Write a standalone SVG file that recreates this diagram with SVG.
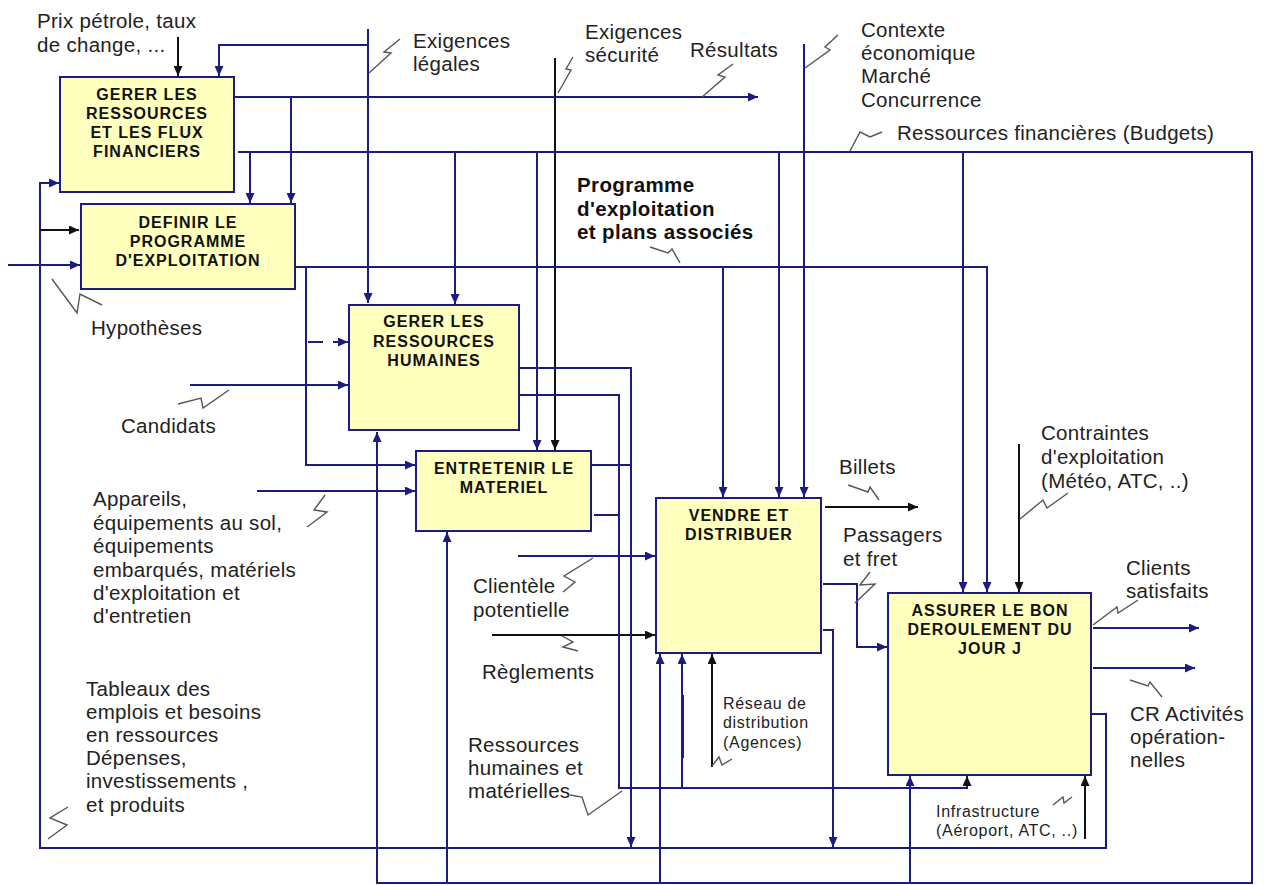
<svg xmlns="http://www.w3.org/2000/svg" width="1264" height="885" viewBox="0 0 1264 885">
  <defs>
    <marker id="an" markerUnits="userSpaceOnUse" markerWidth="11" markerHeight="9" refX="10" refY="4.5" orient="auto">
      <path d="M0,0 L10,4.5 L0,9 z" fill="#1c1c80"/>
    </marker>
    <marker id="ab" markerUnits="userSpaceOnUse" markerWidth="11" markerHeight="9" refX="10" refY="4.5" orient="auto">
      <path d="M0,0 L10,4.5 L0,9 z" fill="#111"/>
    </marker>
    <style>
      .c { fill: none; stroke: #1c1c80; stroke-width: 2; }
      .k { fill: none; stroke: #111; stroke-width: 2; }
      .z { fill: none; stroke: #555; stroke-width: 1.4; }
      .box { fill: #ffffbe; stroke: #1c1c80; stroke-width: 2; }
      .t { font-family: "Liberation Sans", Arial, sans-serif; font-size: 20.5px; fill: #222; letter-spacing: 0.3px; }
      .s { font-family: "Liberation Sans", Arial, sans-serif; font-size: 16px; fill: #222; letter-spacing: 0.7px; }
      .b { font-family: "Liberation Sans", Arial, sans-serif; font-size: 20.5px; font-weight: bold; fill: #111; letter-spacing: 0.4px; }
      .h { font-family: "Liberation Sans", Arial, sans-serif; font-size: 16px; font-weight: bold; fill: #111; text-anchor: middle; letter-spacing: 1px; }
    </style>
  </defs>
  <rect width="1264" height="885" fill="#ffffff"/>

  <!-- connectors -->
  <g id="connectors">
    <!-- controls from the top -->
    <path class="c" d="M368,29 V303" marker-end="url(#an)"/>
    <path class="c" d="M368,45 H219 V76" marker-end="url(#an)"/>
    <path class="k" d="M178,37 V76" marker-end="url(#ab)"/>
    <path class="k" d="M555,58 V450" marker-end="url(#ab)"/>
    <path class="c" d="M804,44 V497" marker-end="url(#an)"/>
    <path class="k" d="M1019,444 V592" marker-end="url(#ab)"/>

    <!-- financial outputs -->
    <path class="c" d="M234,97 H758" marker-end="url(#an)"/>
    <path class="c" d="M291,97 V203" marker-end="url(#an)"/>
    <path class="c" d="M238,152 H1252 V883 H377 V432" marker-end="url(#an)"/>
    <path class="c" d="M250,152 V203" marker-end="url(#an)"/>
    <path class="c" d="M455,152 V304" marker-end="url(#an)"/>
    <path class="c" d="M537,152 V450" marker-end="url(#an)"/>
    <path class="c" d="M779,152 V497" marker-end="url(#an)"/>
    <path class="c" d="M963,152 V592" marker-end="url(#an)"/>
    <path class="c" d="M447,883 V532" marker-end="url(#an)"/>
    <path class="c" d="M660,883 V654" marker-end="url(#an)"/>
    <path class="c" d="M910,883 V776" marker-end="url(#an)"/>

    <!-- operating programme -->
    <path class="c" d="M295,267 H987 V592" marker-end="url(#an)"/>
    <path class="c" d="M723,267 V497" marker-end="url(#an)"/>
    <path class="c" d="M306,267 V465 H415" marker-end="url(#an)"/>
    <path class="c" d="M308,342 H323"/>
    <path class="c" d="M333,342 H348" marker-end="url(#an)"/>

    <!-- feedback loop from the operations report -->
    <path class="c" d="M1091,714 H1106 V848 H40 V183 H59" marker-end="url(#an)"/>

    <!-- external inputs -->
    <path class="c" d="M8,265 H80" marker-end="url(#an)"/>
    <path class="k" d="M40,230 H79" marker-end="url(#ab)"/>
    <path class="c" d="M190,385 H348" marker-end="url(#an)"/>
    <path class="c" d="M257,491 H415" marker-end="url(#an)"/>
    <path class="c" d="M518,556 H655" marker-end="url(#an)"/>
    <path class="k" d="M492,635 H655" marker-end="url(#ab)"/>

    <!-- human and material resources -->
    <path class="c" d="M519,368 H631 V847" marker-end="url(#an)"/>
    <path class="c" d="M591,465 H631"/>
    <path class="c" d="M519,395 H619 V788 H967 V776" marker-end="url(#ab)"/>
    <path class="c" d="M594,515 H619"/>
    <path class="c" d="M682,788 V654" marker-end="url(#an)"/>
    <path class="c" d="M683,695 V758" stroke-width="3.5"/>
    <path class="k" d="M712,767 V654" marker-end="url(#ab)"/>

    <!-- sales outputs -->
    <path class="k" d="M825,507 H918" marker-end="url(#ab)"/>
    <path class="c" d="M823,584 H857 V647 H887" marker-end="url(#an)"/>
    <path class="c" d="M823,630 H833 V847" marker-end="url(#an)"/>

    <!-- day-of-operations outputs -->
    <path class="c" d="M1093,628 H1199" marker-end="url(#an)"/>
    <path class="c" d="M1093,668 H1195" marker-end="url(#an)"/>
    <path class="k" d="M1085,839 V776" marker-end="url(#ab)"/>
  </g>

  <!-- label leaders -->
  <g id="leaders">
    <polyline class="z" points="400,39 384,52 391,53 369,73"/>
    <polyline class="z" points="573,57 566,69 571,70 558,93"/>
    <polyline class="z" points="733,64 718,75 725,77 702,97"/>
    <polyline class="z" points="838,35 825,47 830,50 805,68"/>
    <polyline class="z" points="850,151 860,132 870,137 882,132"/>
    <polyline class="z" points="650,247 668,253 672,249 680,263"/>
    <polyline class="z" points="52,279 77,313 80,294 102,305"/>
    <polyline class="z" points="178,404 201,398 203,408 229,390"/>
    <polyline class="z" points="325,495 314,510 327,512 307,527"/>
    <polyline class="z" points="68,807 50,818 67,825 48,839"/>
    <polyline class="z" points="593,558 564,576 575,582 563,592"/>
    <polyline class="z" points="562,636 573,642 563,647 578,651"/>
    <polyline class="z" points="570,795 582,797 588,815 622,791"/>
    <polyline class="z" points="712,766 719,757 722,765 732,759"/>
    <polyline class="z" points="848,485 868,492 870,487 879,500"/>
    <polyline class="z" points="870,572 860,585 875,584 855,603"/>
    <polyline class="z" points="1020,519 1043,500 1047,508 1068,493"/>
    <polyline class="z" points="1093,625 1117,607 1118,613 1138,600"/>
    <polyline class="z" points="1130,680 1148,686 1150,682 1162,697"/>
    <polyline class="z" points="1053,805 1063,797 1064,803 1072,797"/>
  </g>

  <!-- activity boxes -->
  <g id="gerer-finances">
    <rect class="box" x="60" y="77" width="174" height="115"/>
    <text class="h" x="147" y="100">GERER LES</text>
    <text class="h" x="147" y="119">RESSOURCES</text>
    <text class="h" x="147" y="138">ET LES FLUX</text>
    <text class="h" x="147" y="157">FINANCIERS</text>
  </g>
  <g id="definir-programme">
    <rect class="box" x="81" y="204" width="214" height="85"/>
    <text class="h" x="188" y="228">DEFINIR LE</text>
    <text class="h" x="188" y="247">PROGRAMME</text>
    <text class="h" x="188" y="266">D'EXPLOITATION</text>
  </g>
  <g id="gerer-rh">
    <rect class="box" x="349" y="305" width="170" height="125"/>
    <text class="h" x="434" y="327">GERER LES</text>
    <text class="h" x="434" y="347">RESSOURCES</text>
    <text class="h" x="434" y="366">HUMAINES</text>
  </g>
  <g id="entretenir-materiel">
    <rect class="box" x="416" y="451" width="175" height="80"/>
    <text class="h" x="504" y="474">ENTRETENIR LE</text>
    <text class="h" x="504" y="493">MATERIEL</text>
  </g>
  <g id="vendre-distribuer">
    <rect class="box" x="656" y="498" width="165" height="155"/>
    <text class="h" x="739" y="521">VENDRE ET</text>
    <text class="h" x="739" y="540">DISTRIBUER</text>
  </g>
  <g id="assurer-jour-j">
    <rect class="box" x="888" y="593" width="203" height="182"/>
    <text class="h" x="990" y="616">ASSURER LE BON</text>
    <text class="h" x="990" y="635">DEROULEMENT DU</text>
    <text class="h" x="990" y="654">JOUR J</text>
  </g>

  <!-- flow labels -->
  <g id="labels">
    <text class="t" x="37" y="28">Prix pétrole, taux</text>
    <text class="t" x="37" y="52">de change, ...</text>
    <text class="t" x="413" y="48">Exigences</text>
    <text class="t" x="413" y="71">légales</text>
    <text class="t" x="585" y="39">Exigences</text>
    <text class="t" x="585" y="62">sécurité</text>
    <text class="t" x="690" y="57">Résultats</text>
    <text class="t" x="861" y="37">Contexte</text>
    <text class="t" x="861" y="60">économique</text>
    <text class="t" x="861" y="83">Marché</text>
    <text class="t" x="861" y="107">Concurrence</text>
    <text class="t" x="897" y="140">Ressources financières (Budgets)</text>
    <text class="b" x="577" y="192">Programme</text>
    <text class="b" x="577" y="216">d'exploitation</text>
    <text class="b" x="577" y="239">et plans associés</text>
    <text class="t" x="91" y="335">Hypothèses</text>
    <text class="t" x="121" y="433">Candidats</text>
    <text class="t" x="93" y="506">Appareils,</text>
    <text class="t" x="93" y="530">équipements au sol,</text>
    <text class="t" x="93" y="553">équipements</text>
    <text class="t" x="93" y="577">embarqués, matériels</text>
    <text class="t" x="93" y="600">d'exploitation et</text>
    <text class="t" x="93" y="623">d'entretien</text>
    <text class="t" x="86" y="696">Tableaux des</text>
    <text class="t" x="86" y="719">emplois et besoins</text>
    <text class="t" x="86" y="742">en ressources</text>
    <text class="t" x="86" y="765">Dépenses,</text>
    <text class="t" x="86" y="788">investissements ,</text>
    <text class="t" x="86" y="812">et produits</text>
    <text class="t" x="473" y="593">Clientèle</text>
    <text class="t" x="473" y="617">potentielle</text>
    <text class="t" x="482" y="679">Règlements</text>
    <text class="t" x="468" y="752">Ressources</text>
    <text class="t" x="468" y="775">humaines et</text>
    <text class="t" x="468" y="798">matérielles</text>
    <text class="s" x="723" y="709">Réseau de</text>
    <text class="s" x="723" y="728">distribution</text>
    <text class="s" x="723" y="748">(Agences)</text>
    <text class="t" x="839" y="474">Billets</text>
    <text class="t" x="843" y="542">Passagers</text>
    <text class="t" x="843" y="566">et fret</text>
    <text class="t" x="1041" y="440">Contraintes</text>
    <text class="t" x="1041" y="464">d'exploitation</text>
    <text class="t" x="1041" y="488">(Météo, ATC, ..)</text>
    <text class="t" x="1126" y="575">Clients</text>
    <text class="t" x="1126" y="598">satisfaits</text>
    <text class="t" x="1130" y="721">CR Activités</text>
    <text class="t" x="1130" y="744">opération-</text>
    <text class="t" x="1130" y="767">nelles</text>
    <text class="s" x="936" y="817">Infrastructure</text>
    <text class="s" x="936" y="836">(Aéroport, ATC, ..)</text>
  </g>
</svg>
